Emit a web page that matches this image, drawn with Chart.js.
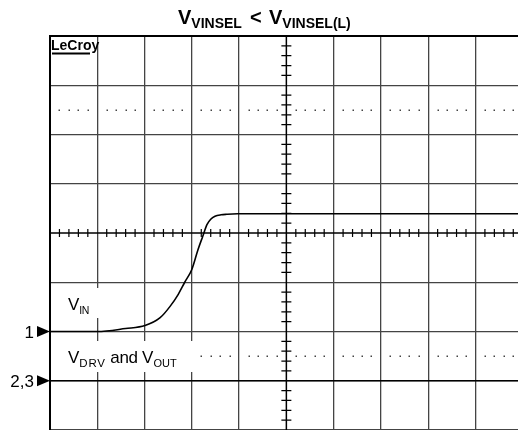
<!DOCTYPE html>
<html>
<head>
<meta charset="utf-8">
<script src="https://cdn.jsdelivr.net/npm/chart.js@4/dist/chart.umd.min.js"></script>
<style>
  html, body { margin: 0; padding: 0; background: #fff; }
  #wrap { width: 518px; height: 430px; position: relative; }
</style>
</head>
<body>
<div id="wrap"><canvas id="c"></canvas></div>
<script>
// Time axis in divisions (0..10), voltage axis in divisions (-4..4)
const vinX = [0, 1.0, 1.6, 2.01, 2.33, 2.54, 2.71, 2.85, 3.00, 3.13, 3.23, 3.32, 3.40, 3.49, 3.62, 3.74, 3.97, 5, 6, 7, 8, 9, 10];
const vinY = [-2.0, -2.0, -1.94, -1.88, -1.72, -1.49, -1.25, -1.0, -0.74, -0.34, -0.07, 0.17, 0.28, 0.34, 0.37, 0.38, 0.39, 0.39, 0.39, 0.39, 0.39, 0.39, 0.39];
const outX = [0, 10];
const outY = [-3.0, -3.0];
const cursorLevels = [2.5, -2.5];
const markerLabels = ['1', '2,3'];
const markerLevels = [-2.0, -3.0];

const FONT = '"Liberation Sans", Arial, sans-serif';

function drawRich(ctx, x, base, parts) {
  for (const p of parts) {
    ctx.font = p.f;
    ctx.letterSpacing = p.ls || '0px';
    ctx.fillText(p.t, x, base + (p.dy || 0));
    x += ctx.measureText(p.t).width;
  }
  ctx.letterSpacing = '0px';
  return x;
}

const scopePlugin = {
  id: 'scope',
  beforeDatasetsDraw(chart) {
    const { ctx, chartArea: a, scales: { x, y } } = chart;
    ctx.save();
    // dotted cursor rows
    ctx.fillStyle = '#444';
    for (const lv of cursorLevels) {
      const py = Math.round(y.getPixelForValue(lv));
      for (let k = 1; k < 50; k++) {
        if (k % 5 === 0) continue;
        const px = x.getPixelForValue(k / 5);
        if (px > a.right) break;
        ctx.fillRect(Math.round(px) - 0.5, py - 0.5, 1.5, 1.5);
      }
    }
    // center axes with minor ticks
    ctx.strokeStyle = '#000';
    ctx.lineWidth = 1.5;
    const cx = x.getPixelForValue(5), cy = y.getPixelForValue(0);
    ctx.beginPath();
    ctx.moveTo(cx, a.top); ctx.lineTo(cx, a.bottom);
    ctx.moveTo(a.left, cy); ctx.lineTo(a.right, cy);
    ctx.stroke();
    ctx.lineWidth = 1.2;
    ctx.beginPath();
    for (let k = -20; k <= 20; k++) {
      if (k % 5 === 0) continue;
      const py = y.getPixelForValue(k / 5);
      ctx.moveTo(cx - 5, py); ctx.lineTo(cx + 5, py);
    }
    for (let k = 1; k < 50; k++) {
      if (k % 5 === 0) continue;
      const px = x.getPixelForValue(k / 5);
      if (px > a.right) break;
      ctx.moveTo(px, cy - 4); ctx.lineTo(px, cy + 4);
    }
    ctx.stroke();
    // frame
    ctx.lineWidth = 2;
    ctx.beginPath();
    ctx.moveTo(a.left, a.bottom); ctx.lineTo(a.left, a.top); ctx.lineTo(a.right + 2, a.top);
    ctx.stroke();

    // label boxes
    ctx.fillStyle = '#fff';
    ctx.fillRect(59, 288, 42, 30);
    ctx.fillRect(58, 341, 139, 31);
    ctx.fillRect(51, 38, 45, 17);

    ctx.fillStyle = '#000';
    ctx.textAlign = 'left';
    ctx.textBaseline = 'alphabetic';
    drawRich(ctx, 68, 310, [
      { t: 'V', f: '17px ' + FONT },
      { t: 'IN', f: '10.5px ' + FONT, dy: 4, ls: '-0.5px' }
    ]);
    drawRich(ctx, 68, 363, [
      { t: 'V', f: '17px ' + FONT },
      { t: 'DRV', f: '11.5px ' + FONT, dy: 4, ls: '0.8px' },
      { t: ' and ', f: '17px ' + FONT, ls: '-0.3px' },
      { t: 'V', f: '17px ' + FONT },
      { t: 'OUT', f: '11px ' + FONT, dy: 4 }
    ]);
    // LeCroy logo
    ctx.font = 'bold 14px ' + FONT;
    ctx.fillText('LeCroy', 51, 50);
    ctx.fillRect(52, 52.5, 38, 2);
    ctx.restore();
  },
  afterDraw(chart) {
    const { ctx, chartArea: a, scales: { y } } = chart;
    ctx.save();
    ctx.fillStyle = '#000';
    // title
    drawRich(ctx, 178, 23.5, [
      { t: 'V', f: 'bold 20px ' + FONT },
      { t: 'VINSEL', f: 'bold 14px ' + FONT, dy: 4.5 }
    ]);
    ctx.font = 'bold 20px ' + FONT;
    ctx.fillText('<', 250, 23.5);
    drawRich(ctx, 269, 23.5, [
      { t: 'V', f: 'bold 20px ' + FONT },
      { t: 'VINSEL(L)', f: 'bold 14px ' + FONT, dy: 4.5 }
    ]);
    // channel markers
    markerLabels.forEach((lab, i) => {
      const py = y.getPixelForValue(markerLevels[i]);
      ctx.beginPath();
      ctx.moveTo(a.left, py);
      ctx.lineTo(a.left - 13, py - 5.5);
      ctx.lineTo(a.left - 13, py + 5.5);
      ctx.closePath();
      ctx.fill();
      ctx.font = '17px ' + FONT;
      ctx.textAlign = 'right';
      ctx.fillText(lab, 34, py + 6);
    });
    ctx.restore();
  }
};

new Chart(document.getElementById('c'), {
  type: 'line',
  data: {
    datasets: [
      {
        label: 'VIN',
        data: vinX.map((v, i) => ({ x: v, y: vinY[i] })),
        borderColor: '#000',
        borderWidth: 1.6,
        pointRadius: 0,
        cubicInterpolationMode: 'monotone',
        fill: false
      },
      {
        label: 'VDRV and VOUT',
        data: outX.map((v, i) => ({ x: v, y: outY[i] })),
        borderColor: '#000',
        borderWidth: 1.4,
        pointRadius: 0,
        fill: false
      }
    ]
  },
  options: {
    responsive: true,
    maintainAspectRatio: false,
    animation: false,
    layout: { padding: { left: 50, top: 36, right: 0, bottom: 0 } },
    plugins: { legend: { display: false }, tooltip: { enabled: false }, title: { display: false } },
    scales: {
      x: {
        type: 'linear', min: 0, max: 9.9,
        ticks: { display: false, stepSize: 1, includeBounds: false },
        grid: { color: (c) => (c.tick && (c.tick.value === 0 || c.tick.value === 5) ? 'rgba(0,0,0,0)' : '#444'), lineWidth: 1.3, drawTicks: false },
        border: { display: false }
      },
      y: {
        type: 'linear', min: -4, max: 4,
        ticks: { display: false, stepSize: 1 },
        grid: { color: (c) => (c.tick && (c.tick.value === 4 || c.tick.value === 0) ? 'rgba(0,0,0,0)' : '#444'), lineWidth: 1.3, drawTicks: false },
        border: { display: false }
      }
    }
  },
  plugins: [scopePlugin]
});
</script>
</body>
</html>
